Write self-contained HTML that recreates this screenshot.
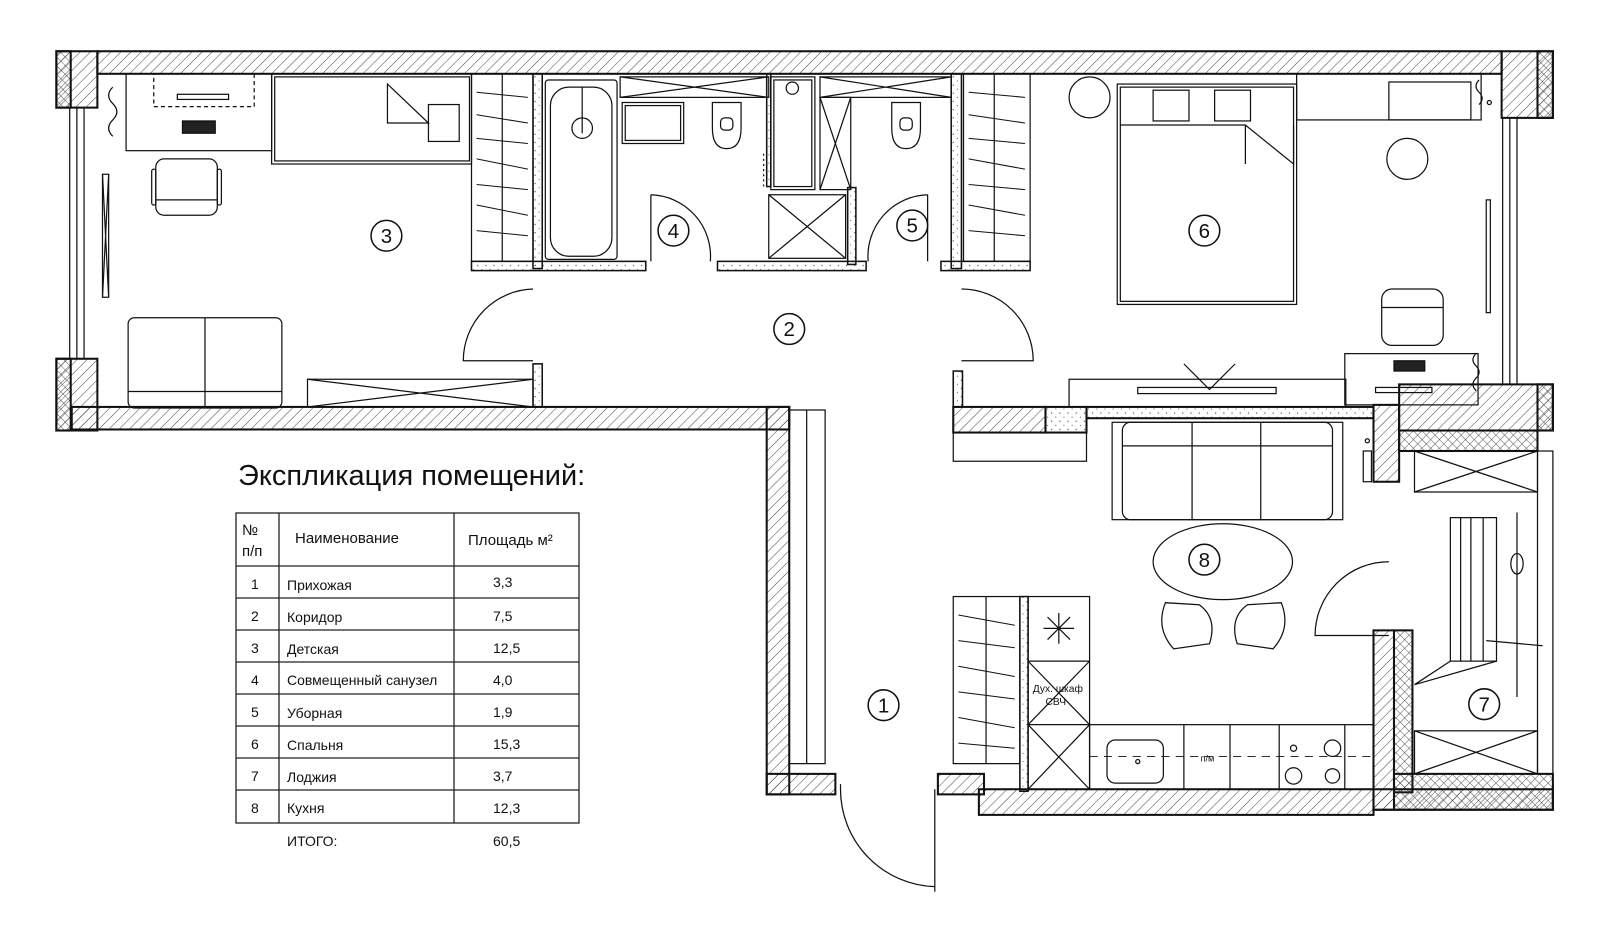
<!DOCTYPE html>
<html><head><meta charset="utf-8"><style>
html,body{margin:0;padding:0;background:#fff;width:1600px;height:941px;overflow:hidden}
svg{display:block}
text{font-family:"Liberation Sans",sans-serif;fill:#111}
</style></head><body>
<svg width="1600" height="941" viewBox="0 0 1600 941" xmlns="http://www.w3.org/2000/svg">
<defs>
<pattern id="h" width="7" height="7" patternUnits="userSpaceOnUse" patternTransform="rotate(45)"><line x1="0" y1="0" x2="0" y2="7" stroke="#333" stroke-width="0.9"/></pattern>
<pattern id="x" width="6" height="6" patternUnits="userSpaceOnUse" patternTransform="rotate(45)"><line x1="0" y1="0" x2="0" y2="6" stroke="#333" stroke-width="0.8"/><line x1="0" y1="0" x2="6" y2="0" stroke="#333" stroke-width="0.8"/></pattern>
<pattern id="s" width="8" height="8" patternUnits="userSpaceOnUse"><circle cx="2" cy="3" r="0.6" fill="#444"/><circle cx="6" cy="7" r="0.5" fill="#444"/></pattern>
</defs>
<g transform="scale(1.025)" fill="none" stroke="#111" stroke-width="1.2">
<g stroke-width="2">
<rect x="95" y="50" width="1370" height="22" fill="url(#h)"/>
<rect x="55" y="50" width="40" height="55" fill="url(#h)"/>
<rect x="55" y="50" width="14" height="55" fill="url(#x)"/>
<rect x="55" y="350" width="40" height="70" fill="url(#h)"/>
<rect x="55" y="350" width="14" height="70" fill="url(#x)"/>
<rect x="70" y="397" width="700" height="22" fill="url(#h)"/>
<rect x="748" y="397" width="22" height="378" fill="url(#h)"/>
<rect x="748" y="755" width="67" height="20" fill="url(#h)"/>
<rect x="915" y="755" width="45" height="20" fill="url(#h)"/>
<rect x="955" y="770" width="385" height="25" fill="url(#h)"/>
<rect x="930" y="397" width="90" height="25" fill="url(#h)"/>
<rect x="1020" y="397" width="40" height="25" fill="url(#s)"/>
<rect x="1060" y="397" width="280" height="11" fill="url(#s)"/>
<rect x="1340" y="395" width="25" height="75" fill="url(#h)"/>
<rect x="1465" y="50" width="50" height="65" fill="url(#h)"/>
<rect x="1500" y="50" width="15" height="65" fill="url(#x)"/>
<rect x="1365" y="375" width="150" height="45" fill="url(#h)"/>
<rect x="1500" y="375" width="15" height="45" fill="url(#x)"/>
<rect x="1365" y="420" width="135" height="20" fill="url(#x)"/>
<rect x="1340" y="615" width="20" height="175" fill="url(#h)"/>
<rect x="1360" y="615" width="18" height="158" fill="url(#x)"/>
<rect x="1360" y="755" width="155" height="35" fill="url(#x)"/>
<rect x="1340" y="770" width="175" height="20" fill="url(#h)"/>
</g>
<rect x="68" y="105" width="14" height="245"/><line x1="75" y1="105" x2="75" y2="350"/>
<rect x="1466" y="115" width="14" height="260"/><line x1="1473" y1="115" x2="1473" y2="375"/>
<rect x="1500" y="440" width="15" height="315"/>
<g fill="url(#s)" stroke-width="1.5">
<rect x="520" y="72" width="9" height="190"/>
<rect x="460" y="255" width="170" height="9"/>
<rect x="700" y="255" width="145" height="9"/>
<rect x="918" y="255" width="87" height="9"/>
<rect x="928" y="72" width="10" height="190"/>
<rect x="520" y="355" width="9" height="42"/>
<rect x="930" y="362" width="9" height="35"/>
<rect x="827" y="183" width="8" height="75"/>
<rect x="995" y="582" width="8" height="190"/>
<rect x="748" y="72" width="4" height="110"/>
</g>
<path d="M110 85 q-8 8 0 16 q8 8 0 16 q-8 8 0 16"/>
<rect x="123" y="72" width="142" height="75"/>
<rect x="150" y="72" width="98" height="32" stroke-dasharray="4 3"/>
<rect x="173" y="92" width="50" height="5"/><rect x="178" y="118" width="32" height="12" fill="#222"/>
<rect x="265" y="72" width="195" height="88"/><rect x="268" y="75" width="190" height="82"/>
<path d="M378 82 L418 120 L378 120 Z"/><rect x="418" y="102" width="30" height="36"/>
<rect x="152" y="155" width="60" height="55" rx="8"/><line x1="152" y1="195" x2="212" y2="195"/>
<rect x="148" y="165" width="4" height="35" rx="2"/><rect x="212" y="165" width="4" height="35" rx="2"/>
<rect x="100" y="170" width="6" height="120"/><line x1="100" y1="170" x2="106" y2="290"/><line x1="106" y1="170" x2="100" y2="290"/>
<rect x="125" y="310" width="150" height="88" rx="6"/><line x1="200" y1="310" x2="200" y2="398"/><line x1="125" y1="382" x2="275" y2="382"/>
<rect x="300" y="370" width="220" height="27"/><line x1="300" y1="370" x2="520" y2="397"/><line x1="300" y1="397" x2="520" y2="370"/>
<rect x="460" y="72" width="60" height="183"/><line x1="490" y1="72" x2="490" y2="255"/>
<g stroke-width="1"><line x1="465" y1="90" x2="515" y2="95"/><line x1="465" y1="112" x2="515" y2="120"/><line x1="465" y1="135" x2="515" y2="140"/><line x1="465" y1="155" x2="515" y2="165"/><line x1="465" y1="180" x2="515" y2="185"/><line x1="465" y1="200" x2="515" y2="210"/><line x1="465" y1="225" x2="515" y2="230"/></g>
<rect x="940" y="72" width="65" height="183"/><line x1="970" y1="72" x2="970" y2="255"/>
<g stroke-width="1"><line x1="945" y1="90" x2="1000" y2="95"/><line x1="945" y1="112" x2="1000" y2="120"/><line x1="945" y1="135" x2="1000" y2="140"/><line x1="945" y1="155" x2="1000" y2="165"/><line x1="945" y1="180" x2="1000" y2="185"/><line x1="945" y1="200" x2="1000" y2="210"/><line x1="945" y1="225" x2="1000" y2="230"/></g>
<rect x="930" y="582" width="65" height="163"/><line x1="962" y1="582" x2="962" y2="745"/>
<g stroke-width="1"><line x1="935" y1="600" x2="990" y2="610"/><line x1="935" y1="625" x2="990" y2="632"/><line x1="935" y1="650" x2="990" y2="660"/><line x1="935" y1="675" x2="990" y2="682"/><line x1="935" y1="700" x2="990" y2="710"/><line x1="935" y1="725" x2="990" y2="730"/></g>
<rect x="770" y="400" width="35" height="345"/><line x1="787" y1="400" x2="787" y2="745"/>
<rect x="532" y="78" width="70" height="175" rx="3"/><rect x="537" y="85" width="60" height="165" rx="18"/>
<circle cx="568" cy="125" r="10"/><line x1="568" y1="85" x2="568" y2="130"/>
<rect x="607" y="100" width="60" height="40"/><rect x="610" y="103" width="54" height="34"/>
<rect x="605" y="75" width="145" height="20"/><line x1="605" y1="75" x2="750" y2="95"/><line x1="605" y1="95" x2="750" y2="75"/>
<path d="M695 100 h28 v25 q0 20 -14 20 q-14 0 -14 -20 z"/><rect x="703" y="115" width="12" height="12" rx="4"/>
<rect x="752" y="75" width="43" height="110"/><rect x="755" y="78" width="37" height="104"/><circle cx="773" cy="86" r="6"/>
<rect x="750" y="190" width="75" height="62"/><line x1="750" y1="190" x2="825" y2="252"/><line x1="825" y1="190" x2="750" y2="252"/>
<rect x="800" y="75" width="128" height="20"/><line x1="800" y1="75" x2="928" y2="95"/><line x1="800" y1="95" x2="928" y2="75"/>
<rect x="800" y="95" width="30" height="90"/><line x1="800" y1="95" x2="830" y2="185"/><line x1="830" y1="95" x2="800" y2="185"/>
<path d="M870 100 h28 v25 q0 20 -14 20 q-14 0 -14 -20 z"/><rect x="878" y="115" width="12" height="12" rx="4"/>
<line x1="745" y1="150" x2="745" y2="182" stroke-dasharray="2 3"/>
<path d="M635 190 v65 M635 190 a60 60 0 0 1 58 65"/>
<path d="M905 190 v65 M905 190 a60 60 0 0 0 -58 65"/>
<path d="M520 282 a70 70 0 0 0 -68 70 h68"/>
<path d="M938 282 a70 70 0 0 1 70 70 h-70"/>
<path d="M1355 548 a72 72 0 0 0 -72 72 h72"/>
<path d="M820 765 v5 M820 770 a95 95 0 0 0 92 95 M912 770 v100"/>
<circle cx="1063" cy="95" r="20"/>
<rect x="1090" y="82" width="175" height="215"/><rect x="1093" y="85" width="169" height="209"/>
<rect x="1125" y="88" width="35" height="30"/><rect x="1185" y="88" width="35" height="30"/>
<path d="M1093 122 H1215 L1262 160 V122"/><line x1="1215" y1="122" x2="1215" y2="160"/>
<rect x="1265" y="72" width="180" height="45"/><rect x="1355" y="80" width="80" height="37"/>
<circle cx="1373" cy="155" r="20"/>
<path d="M1443 78 q-6 6 0 12 q6 6 0 12"/><circle cx="1453" cy="100" r="2"/>
<rect x="1450" y="195" width="4" height="110"/>
<rect x="1348" y="282" width="60" height="55" rx="10"/><line x1="1348" y1="300" x2="1408" y2="300"/>
<rect x="1312" y="345" width="130" height="50"/><rect x="1360" y="352" width="30" height="10" fill="#222"/><rect x="1342" y="378" width="55" height="5"/>
<path d="M1440 345 q-6 6 0 12 q6 6 0 12 q-6 6 0 12"/>
<rect x="1043" y="370" width="270" height="27"/><path d="M1155 355 L1180 380 L1205 355"/><rect x="1110" y="378" width="135" height="6"/>
<rect x="930" y="422" width="130" height="28"/>
<rect x="1085" y="412" width="225" height="95"/><rect x="1095" y="412" width="205" height="95" rx="8"/>
<line x1="1163" y1="412" x2="1163" y2="507"/><line x1="1230" y1="412" x2="1230" y2="507"/><line x1="1095" y1="435" x2="1300" y2="435"/>
<ellipse cx="1193" cy="548" rx="68" ry="37"/>
<path d="M1137 588 q-10 25 8 45 l35 -5 q8 -25 -10 -38 z"/><path d="M1250 588 q10 25 -8 45 l-35 -5 q-8 -25 10 -38 z"/>
<rect x="1003" y="582" width="60" height="188"/><line x1="1003" y1="645" x2="1063" y2="645"/><line x1="1003" y1="707" x2="1063" y2="707"/>
<line x1="1003" y1="645" x2="1063" y2="707"/><line x1="1063" y1="645" x2="1003" y2="707"/>
<line x1="1003" y1="707" x2="1063" y2="770"/><line x1="1063" y1="707" x2="1003" y2="770"/>
<path d="M1033 598 v30 M1018 613 h30 M1022 602 l22 22 M1044 602 l-22 22"/>
<rect x="1063" y="707" width="277" height="63"/>
<line x1="1155" y1="707" x2="1155" y2="770"/><line x1="1200" y1="707" x2="1200" y2="770"/><line x1="1248" y1="707" x2="1248" y2="770"/><line x1="1312" y1="707" x2="1312" y2="770"/>
<rect x="1080" y="722" width="55" height="42" rx="8"/><circle cx="1110" cy="743" r="2"/>
<circle cx="1262" cy="730" r="3"/><circle cx="1300" cy="730" r="8"/><circle cx="1262" cy="757" r="8"/><circle cx="1300" cy="757" r="7"/>
<line x1="1063" y1="738" x2="1340" y2="738" stroke-dasharray="8 6" stroke-width="0.8"/>
<rect x="1330" y="440" width="8" height="30"/><circle cx="1334" cy="430" r="2"/>
<rect x="1380" y="440" width="120" height="40"/><line x1="1380" y1="440" x2="1500" y2="480"/><line x1="1380" y1="480" x2="1500" y2="440"/>
<rect x="1380" y="713" width="120" height="42"/><line x1="1380" y1="713" x2="1500" y2="755"/><line x1="1380" y1="755" x2="1500" y2="713"/>
<rect x="1415" y="505" width="45" height="140"/><line x1="1425" y1="505" x2="1425" y2="645"/><line x1="1435" y1="505" x2="1435" y2="645"/><line x1="1447" y1="505" x2="1447" y2="645"/>
<path d="M1415 645 L1380 668 M1460 645 L1380 668"/><line x1="1480" y1="500" x2="1480" y2="680"/><line x1="1450" y1="625" x2="1505" y2="630"/>
<ellipse cx="1480" cy="550" rx="6" ry="10"/>
</g>
<g transform="scale(1.025)" font-size="20" text-anchor="middle">
<g fill="none" stroke="#111" stroke-width="1.5">
<circle cx="377" cy="230" r="15"/><circle cx="770" cy="321" r="15"/><circle cx="657" cy="225" r="15"/><circle cx="890" cy="220" r="15"/>
<circle cx="1175" cy="225" r="15"/><circle cx="1175" cy="546" r="15"/><circle cx="862" cy="688" r="15"/><circle cx="1448" cy="687" r="15"/>
</g>
<text x="377" y="237">3</text><text x="770" y="328">2</text><text x="657" y="232">4</text><text x="890" y="227">5</text>
<text x="1175" y="232">6</text><text x="1175" y="553">8</text><text x="862" y="695">1</text><text x="1448" y="694">7</text>
<text x="1032" y="675" font-size="10">Дух. шкаф</text><text x="1030" y="688" font-size="10">СВЧ</text>
<text x="1178" y="743" font-size="9">п/м</text>
</g>
<text x="238" y="485" font-size="29">Экспликация помещений:</text>
<g stroke="#222" stroke-width="1.3" fill="none">
<rect x="236" y="513" width="343" height="310"/>
<line x1="279" y1="513" x2="279" y2="823"/><line x1="454" y1="513" x2="454" y2="823"/>
<line x1="236" y1="566" x2="579" y2="566"/><line x1="236" y1="598" x2="579" y2="598"/><line x1="236" y1="630" x2="579" y2="630"/><line x1="236" y1="662" x2="579" y2="662"/><line x1="236" y1="694" x2="579" y2="694"/><line x1="236" y1="726" x2="579" y2="726"/><line x1="236" y1="758" x2="579" y2="758"/><line x1="236" y1="790" x2="579" y2="790"/>
</g>
<g font-size="15">
<text x="242" y="535">№</text><text x="242" y="556">п/п</text>
<text x="295" y="543">Наименование</text><text x="468" y="545">Площадь м²</text>
<g font-size="14">
<text x="251" y="589">1</text><text x="287" y="590">Прихожая</text><text x="493" y="587">3,3</text>
<text x="251" y="621">2</text><text x="287" y="622">Коридор</text><text x="493" y="621">7,5</text>
<text x="251" y="653">3</text><text x="287" y="654">Детская</text><text x="493" y="653">12,5</text>
<text x="251" y="685">4</text><text x="287" y="685">Совмещенный санузел</text><text x="493" y="685">4,0</text>
<text x="251" y="717">5</text><text x="287" y="718">Уборная</text><text x="493" y="717">1,9</text>
<text x="251" y="749">6</text><text x="287" y="750">Спальня</text><text x="493" y="749">15,3</text>
<text x="251" y="781">7</text><text x="287" y="782">Лоджия</text><text x="493" y="781">3,7</text>
<text x="251" y="813">8</text><text x="287" y="813">Кухня</text><text x="493" y="813">12,3</text>
<text x="287" y="846">ИТОГО:</text><text x="493" y="846">60,5</text>
</g></g>
</svg>
</body></html>
